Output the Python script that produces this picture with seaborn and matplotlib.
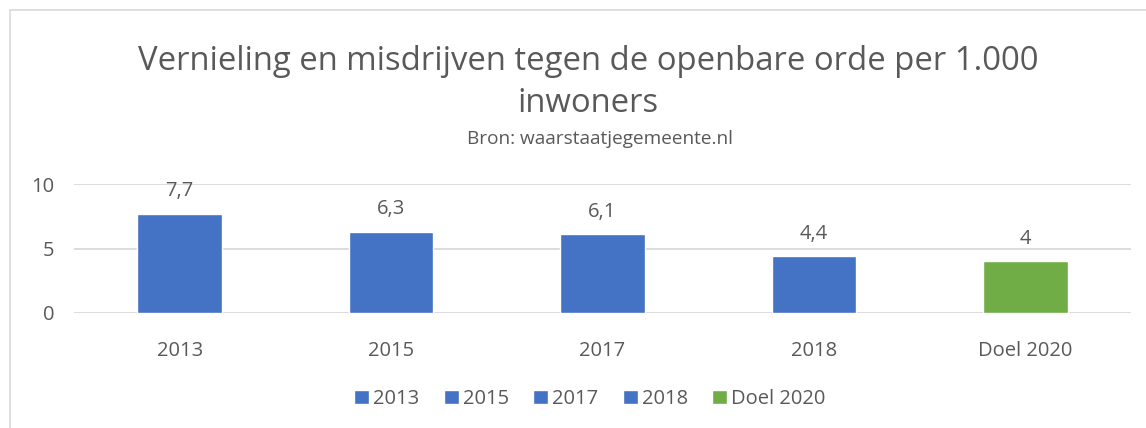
import seaborn as sns
import matplotlib.pyplot as plt
from matplotlib.patches import Rectangle

# Data
categories = ['2013', '2015', '2017', '2018', 'Doel 2020']
values = [7.7, 6.3, 6.1, 4.4, 4.0]
bar_colors = ['#4472C4', '#4472C4', '#4472C4', '#4472C4', '#70AD47']
labels = ['7,7', '6,3', '6,1', '4,4', '4']

sns.set_style('white')
plt.rcParams['font.family'] = ['Open Sans', 'DejaVu Sans']
grey = '#595959'
fs = 14.5

fig = plt.figure(figsize=(11.46, 4.28), dpi=100)
W, H = 1146, 428
ax = fig.add_axes([74 / W, 1 - 313 / H, (1131 - 74) / W, (313 - 184) / H])

sns.barplot(x=categories, y=values, hue=categories, palette=bar_colors,
            width=0.4, saturation=1, legend=True, ax=ax)

ax.set_ylim(0, 10)
ax.set_xlim(-0.5, 4.5)
ax.set_yticks([0, 5, 10])
ax.yaxis.grid(True, color='#D9D9D9', linewidth=1.3)
ax.set_axisbelow(True)
for s in ax.spines.values():
    s.set_visible(False)
ax.tick_params(axis='both', length=0, labelsize=fs, colors=grey, pad=14)
ax.tick_params(axis='x', pad=20)
ax.set_xlabel('')
ax.set_ylabel('')

# waarde labels boven de staven
for i, (v, lab) in enumerate(zip(values, labels)):
    ax.text(i, v + 0.95, lab, ha='center', va='bottom', fontsize=fs, color=grey)

# legenda onderaan
sns.move_legend(ax, 'center', bbox_to_anchor=(590 / W, 1 - 399 / H),
                bbox_transform=fig.transFigure, ncol=5, frameon=False,
                fontsize=fs, handlelength=0.75, handleheight=0.75,
                handletextpad=0.2, columnspacing=1.2, title=None)
for t in ax.get_legend().get_texts():
    t.set_color(grey)

# titels
fig.text(588 / W, 1 - 61 / H, 'Vernieling en misdrijven tegen de openbare orde per 1.000',
         ha='center', va='center', fontsize=23.7, color=grey)
fig.text(588 / W, 1 - 104 / H, 'inwoners', ha='center', va='center', fontsize=23.7, color=grey)
fig.text(600 / W, 1 - 139 / H, 'Bron: waarstaatjegemeente.nl', ha='center', va='center',
         fontsize=13.7, color=grey)

# kader van de grafiek
fig.patches.append(Rectangle((10 / W, -0.1), 1.2, 1 - 10 / H + 0.1,
                             transform=fig.transFigure, fill=False,
                             edgecolor='#D9D9D9', linewidth=1.2))

fig.savefig('out.png', dpi=100)
